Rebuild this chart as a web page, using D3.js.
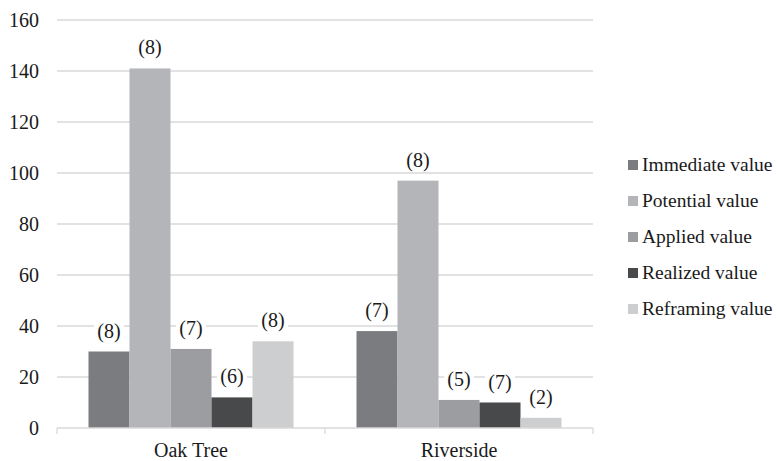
<!DOCTYPE html>
<html><head><meta charset="utf-8"><script src="https://cdn.jsdelivr.net/npm/d3@7"></script></head>
<body style="margin:0; font-family: 'Liberation Serif', 'Times New Roman', serif;">
<svg id="chart" width="777" height="461" font-family="Liberation Serif" style="font-family: 'Liberation Serif', 'Times New Roman', serif;"></svg>
<script>
const categories = ["Oak Tree", "Riverside"];
const seriesNames = ["Immediate value", "Potential value", "Applied value", "Realized value", "Reframing value"];
const immediateValues = [30, 38];
const potentialValues = [141, 97];
const appliedValues = [31, 11];
const realizedValues = [12, 10];
const reframingValues = [34, 4];
const immediateLabels = ["(8)", "(7)"];
const potentialLabels = ["(8)", "(8)"];
const appliedLabels = ["(7)", "(5)"];
const realizedLabels = ["(6)", "(7)"];
const reframingLabels = ["(8)", "(2)"];
const yTicks = [0, 20, 40, 60, 80, 100, 120, 140, 160];
const colors = ["#7b7c80", "#b4b5b9", "#9c9da1", "#48494b", "#cdcecf"];

const seriesValues = [immediateValues, potentialValues, appliedValues, realizedValues, reframingValues];
const seriesLabels = [immediateLabels, potentialLabels, appliedLabels, realizedLabels, reframingLabels];

const svg = d3.select("#chart");
const mLeft = 57, mRight = 593, mTop = 20, mBottom = 428;

function addText(parent, x, yy, txt, size, anchor) {
  return parent.append("text")
    .attr("x", x).attr("y", yy)
    .attr("font-family", "Liberation Serif")
    .style("font", size + "px 'Liberation Serif', 'Times New Roman', serif")
    .attr("text-anchor", anchor)
    .attr("fill", "#1a1a1a")
    .text(txt);
}

const y = d3.scaleLinear().domain([0, 160]).range([mBottom, mTop]);
const x0 = d3.scaleBand().domain(categories).range([mLeft, mRight]).padding(0);
const x1 = d3.scaleBand().domain(seriesNames).range([0, x0.bandwidth()]).paddingInner(0).paddingOuter(0.768);

// gridlines
svg.append("g").selectAll("line").data(yTicks.filter(d => d > 0)).join("line")
  .attr("x1", mLeft).attr("x2", mRight)
  .attr("y1", d => y(d)).attr("y2", d => y(d))
  .attr("stroke", "#d9d9d9").attr("stroke-width", 1.3);

// y tick labels
const yg = svg.append("g");
yTicks.forEach(t => addText(yg, 39, y(t) + 7, String(t), 20, "end"));

// bars
const data = [];
categories.forEach((c, ci) => {
  seriesNames.forEach((s, si) => {
    data.push({ cat: c, series: s, si, value: seriesValues[si][ci], label: seriesLabels[si][ci] });
  });
});

svg.append("g").selectAll("rect").data(data).join("rect")
  .attr("x", d => x0(d.cat) + x1(d.series))
  .attr("y", d => y(d.value))
  .attr("width", x1.bandwidth())
  .attr("height", d => y(0) - y(d.value))
  .attr("fill", d => colors[d.si]);

// labels with white background
const lg = svg.append("g");
data.forEach(d => {
  const cx = x0(d.cat) + x1(d.series) + x1.bandwidth() / 2;
  const by = y(d.value) - 14;
  lg.append("rect")
    .attr("x", cx - 15).attr("y", by - 16)
    .attr("width", 30).attr("height", 20)
    .attr("fill", "#fff");
  addText(lg, cx, by, d.label, 20, "middle");
});

// x axis
const xAxis = svg.append("g");
xAxis.append("line").attr("x1", mLeft).attr("x2", mRight).attr("y1", mBottom).attr("y2", mBottom)
  .attr("stroke", "#d9d9d9").attr("stroke-width", 1.3);
const tickXs = [mLeft].concat(categories.map(c => x0(c) + x0.bandwidth()));
xAxis.selectAll("line.tick").data(tickXs).join("line").attr("class", "tick")
  .attr("x1", d => d).attr("x2", d => d).attr("y1", mBottom).attr("y2", mBottom + 6)
  .attr("stroke", "#d9d9d9").attr("stroke-width", 1.3);
categories.forEach(c => addText(xAxis, x0(c) + x0.bandwidth() / 2, 457, c, 20, "middle"));

// legend
const legend = svg.append("g");
seriesNames.forEach((s, i) => {
  const cy = 165 + i * 36;
  legend.append("rect").attr("x", 628).attr("y", cy - 5).attr("width", 10).attr("height", 10).attr("fill", colors[i]);
  addText(legend, 642, cy + 6, s, 19.5, "start");
});
</script>
</body></html>
